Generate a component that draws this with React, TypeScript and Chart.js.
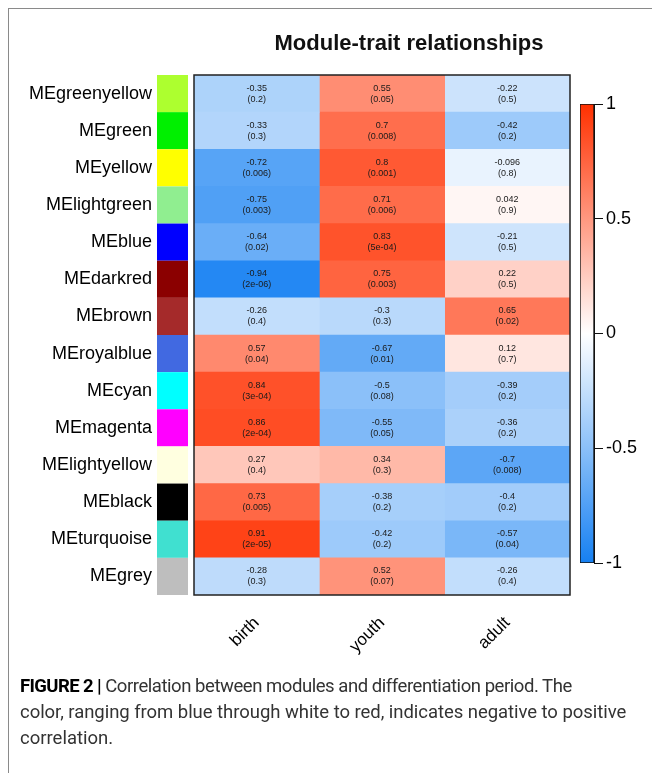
import React, { useEffect, useRef } from 'react';
import { Chart, registerables } from 'chart.js';

Chart.register(...registerables);

const titleText = 'Module-trait relationships';

const modules = [
  'MEgreenyellow', 'MEgreen', 'MEyellow', 'MElightgreen', 'MEblue', 'MEdarkred', 'MEbrown',
  'MEroyalblue', 'MEcyan', 'MEmagenta', 'MElightyellow', 'MEblack', 'MEturquoise', 'MEgrey',
];
const moduleColors = [
  '#ADFF2F', '#00F000', '#FFFF00', '#90EE90', '#0000FF', '#8B0000', '#A52A2A',
  '#4169E1', '#00FFFF', '#FF00FF', '#FFFFE0', '#000000', '#40E0D0', '#BEBEBE',
];

const traits = ['birth', 'youth', 'adult'];

const birthCorr = [-0.35, -0.33, -0.72, -0.75, -0.64, -0.94, -0.26, 0.57, 0.84, 0.86, 0.27, 0.73, 0.91, -0.28];
const birthP = ['0.2', '0.3', '0.006', '0.003', '0.02', '2e-06', '0.4', '0.04', '3e-04', '2e-04', '0.4', '0.005', '2e-05', '0.3'];
const youthCorr = [0.55, 0.7, 0.8, 0.71, 0.83, 0.75, -0.3, -0.67, -0.5, -0.55, 0.34, -0.38, -0.42, 0.52];
const youthP = ['0.05', '0.008', '0.001', '0.006', '5e-04', '0.003', '0.3', '0.01', '0.08', '0.05', '0.3', '0.2', '0.2', '0.07'];
const adultCorr = [-0.22, -0.42, -0.096, 0.042, -0.21, 0.22, 0.65, 0.12, -0.39, -0.36, -0.7, -0.4, -0.57, -0.26];
const adultP = ['0.5', '0.2', '0.8', '0.9', '0.5', '0.5', '0.02', '0.7', '0.2', '0.2', '0.008', '0.2', '0.04', '0.4'];

const colorbarTicks = [-1, -0.5, 0, 0.5, 1];

const corr = [birthCorr, youthCorr, adultCorr];
const pvals = [birthP, youthP, adultP];

const FONT = "'Liberation Sans', Arial, Helvetica, sans-serif";
const BLUE = [22, 128, 242];
const RED = [255, 48, 0];

function colorFor(v: number): string {
  const t = Math.min(1, Math.abs(v));
  const end = v < 0 ? BLUE : RED;
  const c = end.map((e) => Math.round(255 + (e - 255) * t));
  return `rgb(${c.join(',')})`;
}

const heatPlugin = {
  id: 'heatExtras',
  afterDatasetsDraw(chart: any) {
    const { ctx, chartArea: a, scales } = chart;
    const x = scales.x;
    const y = scales.y;
    ctx.save();
    ctx.font = `9px ${FONT}`;
    ctx.fillStyle = '#1a1a1a';
    ctx.textAlign = 'center';
    ctx.textBaseline = 'middle';
    traits.forEach((_, ti) => {
      modules.forEach((_m, mi) => {
        const cx = x.getPixelForValue(ti + 0.5);
        const cy = y.getPixelForValue(mi);
        ctx.fillText(String(corr[ti][mi]), cx, cy - 5.5);
        ctx.fillText(`(${pvals[ti][mi]})`, cx, cy + 5.5);
      });
    });
    ctx.strokeStyle = '#222';
    ctx.lineWidth = 1.5;
    ctx.strokeRect(a.left, a.top, a.right - a.left, a.bottom - a.top);
    const rowH = y.getPixelForValue(1) - y.getPixelForValue(0);
    modules.forEach((_m, mi) => {
      const cy = y.getPixelForValue(mi);
      ctx.fillStyle = moduleColors[mi];
      ctx.fillRect(a.left - 37, cy - rowH / 2, 31, rowH);
    });
    ctx.font = `bold 22px ${FONT}`;
    ctx.fillStyle = '#111';
    ctx.textAlign = 'center';
    ctx.textBaseline = 'alphabetic';
    ctx.fillText(titleText, 409, 50);
    ctx.restore();
  },
};

export default function App() {
  const mainRef = useRef<HTMLCanvasElement>(null);
  const barRef = useRef<HTMLCanvasElement>(null);

  useEffect(() => {
    const main = new Chart(mainRef.current as HTMLCanvasElement, {
      type: 'bar',
      data: {
        labels: modules,
        datasets: traits.map((t, ti) => ({
          label: t,
          data: modules.map(() => [ti, ti + 1]),
          backgroundColor: corr[ti].map(colorFor),
          borderWidth: 0,
          grouped: false,
          barPercentage: 1,
          categoryPercentage: 1,
        })) as any,
      },
      options: {
        indexAxis: 'y',
        animation: false,
        responsive: false,
        devicePixelRatio: 1,
        events: [],
        layout: { padding: { left: 0, right: 82, top: 75, bottom: 0 } },
        plugins: { legend: { display: false }, tooltip: { enabled: false }, title: { display: false } },
        scales: {
          y: {
            type: 'category',
            position: 'left',
            offset: true,
            grid: { display: false, drawTicks: false },
            border: { display: false },
            ticks: { padding: 42, color: '#000', font: { family: FONT, size: 18 }, autoSkip: false },
            afterFit: (s: any) => { s.width = 194; },
          },
          x: {
            type: 'linear',
            min: 0,
            max: 3,
            position: 'bottom',
            grid: { display: false, drawTicks: false },
            border: { display: false },
            afterBuildTicks: (s: any) => { s.ticks = traits.map((_, i) => ({ value: i + 0.5 })); },
            ticks: {
              minRotation: 45,
              maxRotation: 45,
              padding: 18,
              autoSkip: false,
              color: '#000',
              font: { family: FONT, size: 17 },
              callback: (v: any) => traits[Math.floor(Number(v))] ?? '',
            },
            afterFit: (s: any) => { s.height = 178; },
          },
        },
      } as any,
      plugins: [heatPlugin],
    });

    const bar = new Chart(barRef.current as HTMLCanvasElement, {
      type: 'bar',
      data: {
        labels: [''],
        datasets: [{
          data: [[-1, 1]],
          backgroundColor: (c: any) => {
            const ch = c.chart;
            const a = ch.chartArea;
            if (!a) return '#fff';
            const g = ch.ctx.createLinearGradient(0, a.bottom, 0, a.top);
            for (let i = 0; i <= 20; i++) {
              g.addColorStop(i / 20, colorFor(-1 + i * 0.1));
            }
            return g;
          },
          borderColor: '#111',
          borderWidth: 1,
          borderSkipped: false,
          barPercentage: 1,
          categoryPercentage: 1,
        }] as any,
      },
      options: {
        animation: false,
        responsive: false,
        devicePixelRatio: 1,
        events: [],
        layout: { padding: { left: 10, top: 14, bottom: 17, right: 0 } },
        plugins: { legend: { display: false }, tooltip: { enabled: false } },
        scales: {
          x: { display: false },
          y: {
            position: 'right',
            min: -1,
            max: 1,
            afterBuildTicks: (s: any) => { s.ticks = colorbarTicks.map((v) => ({ value: v })); },
            grid: { drawOnChartArea: false, tickLength: 9, color: '#111', lineWidth: 1 },
            border: { display: true, color: '#111' },
            ticks: { padding: 3, color: '#000', font: { family: FONT, size: 18 }, callback: (v: any) => String(v) },
            afterFit: (s: any) => { s.width = 58; },
          },
        },
      } as any,
    });

    return () => {
      main.destroy();
      bar.destroy();
    };
  }, []);

  return (
    <div style={{ position: 'absolute', left: 0, top: 0, width: 652, height: 773, overflow: 'hidden', background: '#fff' }}>
      <div style={{ position: 'absolute', left: 8, top: 8, width: 700, height: 800, borderTop: '1px solid #8a8a8a', borderLeft: '1px solid #8a8a8a' }} />
      <canvas ref={mainRef} width={652} height={773} style={{ position: 'absolute', left: 0, top: 0, width: 652, height: 773 }} />
      <canvas ref={barRef} width={82} height={490} style={{ position: 'absolute', left: 570, top: 90, width: 82, height: 490 }} />
      <div style={{ position: 'absolute', left: 20, top: 673, fontFamily: 'Roboto, sans-serif', fontSize: 18.5, lineHeight: '26px', color: '#333', whiteSpace: 'nowrap' }}>
        <div style={{ letterSpacing: '-0.45px' }}>
          <b style={{ color: '#000', fontSize: 18.5, letterSpacing: '-0.6px' }}>FIGURE 2 |</b> Correlation between modules and differentiation period. The
        </div>
        <div style={{ letterSpacing: '-0.05px' }}>color, ranging from blue through white to red, indicates negative to positive</div>
        <div>correlation.</div>
      </div>
    </div>
  );
}
